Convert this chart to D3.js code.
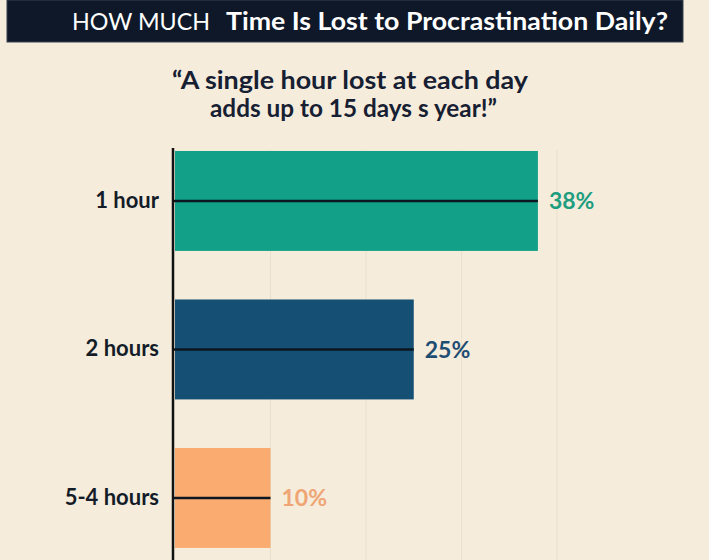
<!DOCTYPE html>
<html>
<head>
<meta charset="utf-8">
<script src="https://cdn.jsdelivr.net/npm/d3@7/dist/d3.min.js"></script>
<style>
  html, body { margin: 0; padding: 0; background: #f5ecdc; }
  svg { display: block; }
  text { font-family: Lato, "Open Sans", sans-serif; }
</style>
</head>
<body>
<svg id="chart" width="709" height="560"></svg>
<script>
// Share of people by daily time lost to procrastination
const categories = ["1 hour", "2 hours", "5-4 hours"];
const shares = [38, 25, 10];
const valueLabels = ["38%", "25%", "10%"];
const barColors = ["#12a088", "#164f74", "#f9ab70"];
const labelColors = ["#1e9d7f", "#1e4d72", "#f0a574"];
const gridValues = [10, 20, 30, 40];

const titleLight = "HOW MUCH";
const titleBold = "Time Is Lost to Procrastination Daily?";
const quoteLines = ["\u201CA single hour lost at each day", "adds up to 15 days s year!\u201D"];

const svg = d3.select("#chart");
const W = 709, H = 560;

svg.append("rect").attr("width", W).attr("height", H).attr("fill", "#f5ecdc");

// Header band
svg.append("rect")
  .attr("x", 7).attr("y", 0).attr("width", 676).attr("height", 42)
  .attr("fill", "#0e1828").attr("stroke", "#39404c").attr("stroke-width", 1);

svg.append("text")
  .attr("x", 72).attr("y", 30)
  .attr("fill", "#ffffff").attr("font-size", 23).attr("font-weight", 400)
  .attr("textLength", 138).attr("lengthAdjust", "spacingAndGlyphs")
  .text(titleLight);

svg.append("text")
  .attr("x", 226).attr("y", 30)
  .attr("fill", "#ffffff").attr("font-size", 24).attr("font-weight", 700)
  .attr("textLength", 442).attr("lengthAdjust", "spacingAndGlyphs")
  .text(titleBold);

// Quote under the header
const quoteWidths = [356, 287];
svg.selectAll("text.quote").data(quoteLines).join("text")
  .attr("class", "quote")
  .attr("x", (d, i) => i === 0 ? 172 : 210)
  .attr("y", (d, i) => 89 + i * 28)
  .attr("fill", "#172032").attr("font-size", 25).attr("font-weight", 700)
  .attr("textLength", (d, i) => quoteWidths[i]).attr("lengthAdjust", "spacingAndGlyphs")
  .text(d => d);

// Scales
const x = d3.scaleLinear().domain([0, 40]).range([175, 557]);
const y = d3.scaleBand().domain(categories)
  .range([126.7, 572.2]).paddingInner(0.327).paddingOuter(0.1635);

// Faint vertical gridlines
svg.append("g").selectAll("line").data(gridValues).join("line")
  .attr("x1", d => x(d)).attr("x2", d => x(d))
  .attr("y1", 150).attr("y2", H)
  .attr("stroke", "#ebe0cb").attr("stroke-width", 1);

const rows = categories.map((c, i) => ({ c, v: shares[i], label: valueLabels[i], i }));

// Bars
svg.append("g").selectAll("rect").data(rows).join("rect")
  .attr("x", x(0)).attr("y", d => y(d.c))
  .attr("width", d => x(d.v) - x(0)).attr("height", y.bandwidth())
  .attr("fill", d => barColors[d.i]);

// Centre line through each bar
svg.append("g").selectAll("line").data(rows).join("line")
  .attr("x1", x(0) - 2).attr("x2", d => x(d.v))
  .attr("y1", d => y(d.c) + y.bandwidth() / 2).attr("y2", d => y(d.c) + y.bandwidth() / 2)
  .attr("stroke", "#0b1620").attr("stroke-width", 2.5);

// Category axis
const yAxis = svg.append("g")
  .attr("transform", `translate(${x(0) - 2},0)`)
  .call(d3.axisLeft(y).tickSize(0).tickPadding(14));
yAxis.select(".domain").remove();
yAxis.selectAll("text")
  .attr("font-size", 22).attr("font-weight", 700).attr("fill", "#141c28")
  .style("font-family", "Lato, sans-serif");

svg.append("line")
  .attr("x1", x(0) - 2).attr("x2", x(0) - 2)
  .attr("y1", 148).attr("y2", H)
  .attr("stroke", "#111111").attr("stroke-width", 2.5);

// Value labels
svg.append("g").selectAll("text").data(rows).join("text")
  .attr("x", d => x(d.v) + 11)
  .attr("y", d => y(d.c) + y.bandwidth() / 2)
  .attr("dy", "0.36em")
  .attr("font-size", 23).attr("font-weight", 700)
  .attr("fill", d => labelColors[d.i])
  .text(d => d.label);
</script>
</body>
</html>
